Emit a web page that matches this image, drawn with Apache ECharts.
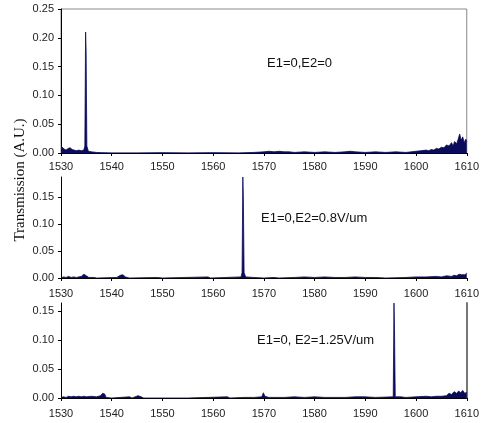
<!DOCTYPE html>
<html><head><meta charset="utf-8">
<script src="https://cdn.jsdelivr.net/npm/echarts@6/dist/echarts.min.js"></script>
<style>html,body{margin:0;padding:0;background:#fff}#c{width:482px;height:423px}</style>
</head><body><div id="c"></div>
<script>
// wavelength (nm), transmission (A.U.)
var xTicks = [1530,1540,1550,1560,1570,1580,1590,1600,1610];
var yTicks1 = [0.00,0.05,0.10,0.15,0.20,0.25];
var yTicks23 = [0.00,0.05,0.10,0.15];
var labels = ['E1=0,E2=0','E1=0,E2=0.8V/um','E1=0, E2=1.25V/um'];
var yMax = [0.25, 0.187, 0.164];

var p1 = [[1530,0.012],[1530.3,0.010],[1530.6,0.007],[1531,0.005],[1531.4,0.008],[1531.8,0.009],[1532.2,0.006],[1532.6,0.005],[1533,0.004],[1533.5,0.005],[1534,0.004],[1534.5,0.005],[1534.7,0.012],[1534.85,0.21],[1534.95,0.178],[1535.1,0.012],[1535.4,0.003],[1536,0.002],[1537,0.001],[1538,0.0005],[1540,0],[1545,0],[1550,0.0005],[1555,0],[1560,0.0005],[1565,0],[1568,0.001],[1570,0.002],[1571,0.003],[1572,0.002],[1573,0.003],[1574,0.002],[1575,0.002],[1576,0.001],[1578,0.002],[1580,0.001],[1582,0.002],[1584,0.001],[1586,0.002],[1587,0.003],[1588,0.002],[1590,0.001],[1592,0.002],[1594,0.001],[1596,0.002],[1598,0.001],[1600,0.003],[1601,0.004],[1602,0.005],[1602.5,0.004],[1603,0.006],[1603.5,0.005],[1604,0.008],[1604.5,0.007],[1605,0.010],[1605.5,0.009],[1606,0.014],[1606.5,0.012],[1607,0.018],[1607.3,0.012],[1607.6,0.020],[1608,0.016],[1608.3,0.024],[1608.6,0.033],[1608.9,0.022],[1609.2,0.028],[1609.5,0.018],[1609.8,0.024],[1610,0.02]];
var p2 = [[1530,0],[1530.5,0.002],[1531,0.001],[1531.5,0.003],[1532,0.001],[1532.5,0.002],[1533,0.001],[1534,0.003],[1534.5,0.007],[1535,0.004],[1535.5,0.001],[1536.5,0.001],[1537,0],[1541,0.001],[1541.7,0.005],[1542.2,0.006],[1542.7,0.002],[1543.5,0],[1549,0.001],[1550,0],[1559,0.002],[1559.5,0],[1565.5,0.002],[1565.7,0.01],[1565.85,0.187],[1565.95,0.148],[1566.1,0.01],[1566.4,0.002],[1568,0.001],[1570,0],[1572,0.001],[1573,0],[1576,0.001],[1578,0.002],[1580,0.001],[1582,0.002],[1584,0.001],[1586,0.001],[1588,0.002],[1590,0.001],[1592,0.001],[1594,0],[1598,0.001],[1600,0.002],[1602,0.002],[1604,0.003],[1605,0.002],[1606,0.004],[1607,0.003],[1607.5,0.005],[1608,0.004],[1608.5,0.007],[1609,0.006],[1609.3,0.009],[1609.6,0.006],[1610,0.009]];
var p3 = [[1530,0.001],[1530.5,0.002],[1531,0.001],[1531.5,0.003],[1532,0.002],[1532.5,0.003],[1533,0.002],[1533.5,0.003],[1534,0.002],[1534.5,0.003],[1535,0.002],[1536,0.003],[1537,0.002],[1537.8,0.004],[1538.2,0.008],[1538.6,0.007],[1538.9,0.001],[1540,0],[1543.5,0.002],[1544,0],[1545.2,0.004],[1545.8,0.002],[1546.3,0],[1555,0],[1562.8,0.002],[1563.3,0],[1566,0.001],[1568,0.001],[1569.6,0.002],[1569.9,0.009],[1570.2,0.003],[1571,0.001],[1574,0.001],[1576,0.002],[1578,0.001],[1580,0.002],[1582,0.001],[1584,0.001],[1586,0.001],[1588,0.002],[1590,0.002],[1592,0.001],[1595.5,0.002],[1595.65,0.164],[1595.75,0.12],[1595.9,0.002],[1597,0.002],[1598,0.001],[1600,0.002],[1602,0.003],[1603,0.002],[1604,0.003],[1605,0.003],[1606,0.004],[1606.5,0.008],[1607,0.006],[1607.5,0.011],[1608,0.008],[1608.4,0.012],[1608.8,0.009],[1609.2,0.013],[1609.6,0.008],[1610,0.01]];
var series = [p1, p2, p3];

var grids = [
  {left:61, top:9, width:408, height:144},
  {left:61, top:177, width:408, height:101},
  {left:61, top:303, width:409, height:95}
];
var navy = '#0b0b5c';
var lblFont = {fontFamily:'Liberation Sans, Arial, sans-serif', fontSize:11, color:'#222'};

var opt = {
  animation:false,
  grid: grids.map(function(g,i){ return Object.assign({containLabel:false, show:i===0, borderColor:'#888', borderWidth:1}, g); }),
  xAxis: [0,1,2].map(function(i){ return {
    type:'value', gridIndex:i, min:xTicks[0], max:xTicks[xTicks.length-1], interval:10,
    axisLine:{show:true, onZero:false, lineStyle:{color:'#000', width:1}},
    axisTick:{show:true, inside:false, length:3, lineStyle:{color:'#000'}},
    splitLine:{show:false},
    axisLabel:Object.assign({margin: i===0?8:10, formatter:function(v){return String(v);}}, lblFont)
  };}),
  yAxis: [0,1,2].map(function(i){ return {
    type:'value', gridIndex:i, min:0, max:yMax[i], interval:0.05,
    axisLine:{show:true, lineStyle:{color:'#000', width:1}},
    axisTick:{show:true, length:3, lineStyle:{color:'#000'}},
    splitLine:{show:false},
    axisLabel:Object.assign({margin:7, showMaxLabel: i===0, formatter:function(v){return v.toFixed(2);}}, lblFont)
  };}).concat([{
    type:'value', gridIndex:2, position:'right', min:0, max:yMax[2],
    axisLine:{show:true, lineStyle:{color:'#777', width:2}},
    axisTick:{show:false}, axisLabel:{show:false}, splitLine:{show:false}
  }]),
  series: series.map(function(d,i){ return {
    type:'line', xAxisIndex:i, yAxisIndex:i, data:d, showSymbol:false, symbol:'none',
    lineStyle:{color:navy, width:0.8}, areaStyle:{color:navy, opacity:1}, z:3
  };}),
  graphic: [
    {type:'text', left:267, top:57, style:{text:labels[0], font:'13px Liberation Sans, Arial, sans-serif', fill:'#111'}},
    {type:'text', left:261, top:212, style:{text:labels[1], font:'13px Liberation Sans, Arial, sans-serif', fill:'#111'}},
    {type:'text', left:257, top:334, style:{text:labels[2], font:'13px Liberation Sans, Arial, sans-serif', fill:'#111'}},
    {type:'text', x:20, y:180, rotation:Math.PI/2, style:{text:'Transmission (A.U.)', font:'15px Liberation Serif, Times New Roman, serif', fill:'#111', align:'center', verticalAlign:'middle'}}
  ]
};
var chart = echarts.init(document.getElementById('c'), null, {renderer:'canvas'});
chart.setOption(opt);
</script></body></html>
